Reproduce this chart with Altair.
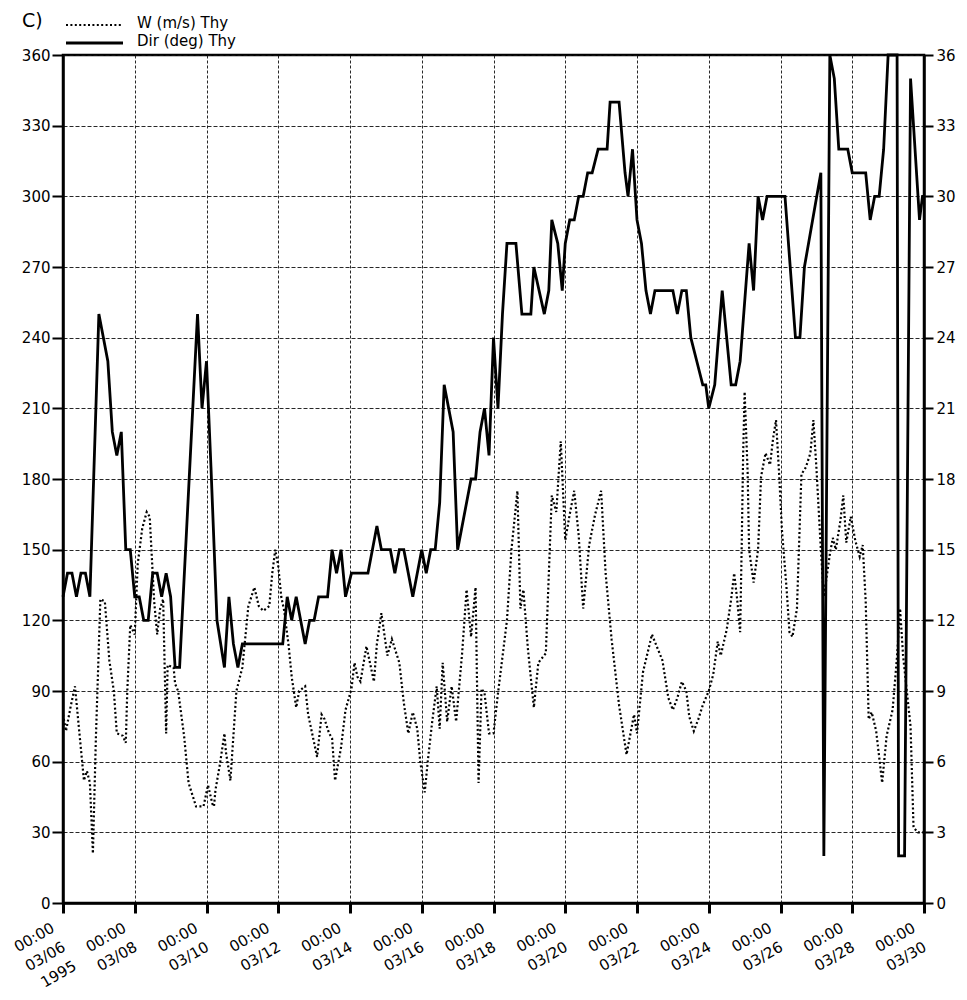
import altair as alt
import pandas as pd

# ---------------- data ----------------
# hours after 1995-03-06 00:00
dir_hours = [0, 3, 6, 9, 12, 15, 18, 24, 30, 33, 36, 39, 42, 45, 48, 51, 54, 57, 60, 63,
             66, 69, 72, 75, 78, 90, 93, 96, 99, 103, 108, 111, 114, 117, 120, 147, 150, 153,
             156, 162, 165, 168, 171, 177, 180, 183, 186, 189, 193, 204, 210, 213, 219, 222,
             225, 228, 234, 240, 243, 246, 249, 252, 255, 261, 264, 273, 276, 279, 282, 285,
             288, 291, 294, 297, 303, 307, 313, 315, 322, 325, 327, 331, 334, 336, 339, 342,
             345, 348, 351, 354, 358, 364, 366, 372, 376, 378, 381, 384, 387, 390, 393, 396,
             408, 411, 414, 417, 420, 424, 428, 430, 432, 436, 441, 447, 450, 453, 459, 462,
             465, 468, 471, 483, 490, 493, 496, 507, 509, 513, 516, 519, 525, 528, 537, 540,
             543, 546, 549, 552, 558, 559, 563, 567, 570, 573, 575, 576]
dir_deg = [130, 140, 140, 130, 140, 140, 130, 250, 230, 200, 190, 200, 150, 150, 130, 130, 120, 120, 140, 140,
           130, 140, 130, 100, 100, 250, 210, 230, 185, 120, 100, 130, 110, 100, 110, 110, 130, 120,
           130, 110, 120, 120, 130, 130, 150, 140, 150, 130, 140, 140, 160, 150, 150, 140,
           150, 150, 130, 150, 140, 150, 150, 170, 220, 200, 150, 180, 180, 200, 210, 190,
           240, 210, 250, 280, 280, 250, 250, 270, 250, 260, 290, 280, 260, 280, 290, 290,
           300, 300, 310, 310, 320, 320, 340, 340, 310, 300, 320, 290, 280, 260, 250, 260,
           260, 250, 260, 260, 240, 230, 220, 220, 210, 220, 260, 220, 220, 230, 280, 260,
           300, 290, 300, 300, 240, 240, 270, 310, 20, 360, 350, 320, 320, 310, 310, 290,
           300, 300, 320, 360, 360, 20, 20, 350, 320, 290, 300, 300]

w_hours = [0, 2, 5, 8, 11, 14, 16, 18, 20, 22, 25, 28, 31, 34, 36, 40, 42, 43, 45, 48,
           50, 53, 56, 58, 60, 61, 63, 65, 67, 69, 70, 74, 75, 77, 81, 84, 89, 94, 97, 100,
           101, 102, 105, 108, 109, 112, 116, 120, 124, 128, 131, 134, 138, 140, 142, 144, 146, 148,
           151, 153, 156, 158, 162, 164, 170, 173, 175, 178, 180, 182, 186, 189, 193, 195,
           197, 199, 203, 205, 208, 210, 213, 217, 220, 225, 228, 231, 234, 237, 239, 242,
           244, 247, 250, 252, 254, 257, 260, 263, 267, 270, 273, 276, 278, 280, 282, 285,
           288, 291, 297, 300, 304, 306, 308, 311, 315, 318, 323, 327, 330, 333, 336, 339,
           342, 345, 348, 352, 356, 360, 363, 367, 372, 377, 382, 384, 388, 394, 401, 405,
           408, 411, 414, 417, 419, 422, 425, 428, 432, 435, 438, 440, 444, 447, 449, 451,
           453, 454, 455, 456, 458, 459, 462, 465, 467, 470, 473, 475, 477, 479, 481, 484,
           486, 488, 491, 494, 497, 500, 502, 504, 507, 509, 513, 515, 517, 520, 522, 524,
           527, 530, 533, 535, 537, 539, 541, 544, 546, 548, 551, 555, 558, 560, 562, 565,
           567, 569, 572, 576]
w_speed = [8.0, 7.3, 8.3, 9.2, 7.2, 5.2, 5.6, 5.1, 2.1, 7.0, 12.9, 12.8, 10.3, 9.0, 7.2, 7.1, 6.8, 9.0, 11.8, 11.4,
           14.4, 15.9, 16.6, 16.4, 14.0, 12.8, 11.4, 12.5, 12.9, 7.2, 10.1, 10.0, 9.3, 9.0, 7.1, 5.1, 4.1, 4.1, 5.0, 4.2,
           4.1, 4.8, 5.9, 7.2, 6.4, 5.2, 9.0, 10.0, 12.6, 13.4, 12.6, 12.4, 12.6, 14.0, 15.0, 14.3, 13.0, 12.4,
           10.9, 9.6, 8.3, 9.0, 9.2, 8.0, 6.2, 8.0, 7.8, 7.2, 7.0, 5.2, 6.6, 8.2, 9.1, 10.2,
           9.6, 9.4, 10.9, 10.3, 9.4, 11.0, 12.3, 10.5, 11.2, 10.2, 8.5, 7.2, 8.1, 7.4, 6.0, 4.7,
           6.0, 7.7, 9.2, 7.4, 10.2, 7.7, 9.2, 7.7, 10.6, 13.3, 11.3, 13.4, 5.1, 9.1, 8.9, 7.2,
           7.2, 8.9, 12.0, 15.0, 17.5, 12.5, 13.3, 10.8, 8.3, 10.2, 10.6, 17.3, 16.6, 19.6, 15.4, 16.5,
           17.5, 15.6, 12.5, 15.2, 16.5, 17.5, 14.0, 11.2, 8.4, 6.3, 8.0, 7.2, 9.8, 11.4, 10.3, 8.7,
           8.2, 8.7, 9.4, 9.0, 7.9, 7.3, 7.8, 8.4, 9.0, 9.7, 11.1, 10.5, 11.6, 12.9, 14.0, 12.9,
           11.5, 15.0, 19.0, 21.7, 18.3, 15.0, 13.6, 15.0, 18.1, 19.1, 18.6, 19.7, 20.5, 18.3, 15.8, 13.4,
           11.5, 11.3, 12.5, 18.2, 18.5, 19.1, 20.5, 18.5, 15.0, 13.0, 14.8, 15.5, 15.0, 16.2, 17.3, 15.3,
           16.4, 15.4, 14.7, 15.2, 12.8, 7.8, 8.1, 7.3, 6.2, 5.1, 7.1, 8.2, 10.5, 12.5, 10.5, 8.7,
           7.5, 3.2, 3.0, 3.0]

dir_ticks = list(range(0, 361, 30))
w_ticks = list(range(0, 37, 3))
tick_days = list(range(6, 31, 2))
panel_label = ["C)"]
legend_labels = ["W (m/s) Thy", "Dir (deg) Thy"]

# ---------------- build ----------------
start = pd.Timestamp("1995-03-06 00:00")
dir_df = pd.DataFrame({"time": start + pd.to_timedelta(dir_hours, unit="h"), "dir": dir_deg})
w_df = pd.DataFrame({"time": start + pd.to_timedelta(w_hours, unit="h"), "w": w_speed})

FONT = "DejaVu Sans"
x_scale = alt.Scale(domain=[alt.DateTime(year=1995, month=3, date=6),
                            alt.DateTime(year=1995, month=3, date=30)])
x_axis = alt.Axis(
    values=[alt.DateTime(year=1995, month=3, date=d) for d in tick_days],
    title=None, labelAngle=330, labelAlign="right", labelBaseline="top",
    labelExpr=("(month(datum.value)==2 && date(datum.value)==6) ? "
               "[timeFormat(datum.value,'%H:%M'), timeFormat(datum.value,'%m/%d'), timeFormat(datum.value,'%Y')] : "
               "[timeFormat(datum.value,'%H:%M'), timeFormat(datum.value,'%m/%d')]"),
    labelFont=FONT, labelFontSize=15, labelLineHeight=22, labelColor="black",
    labelPadding=7, labelOffset=-14, labelOverlap=False, labelFlush=False,
    tickSize=10, tickWidth=3, tickColor="black",
    domainWidth=2.5, domainColor="black",
    grid=True, gridDash=[3, 2], gridColor="#111111", gridWidth=1, gridOpacity=0.9,
)
x_enc = alt.X("time:T", scale=x_scale, axis=x_axis)

w_line = alt.Chart(w_df).mark_line(color="black", strokeWidth=2.2, strokeDash=[2, 2.4]).encode(
    x=x_enc,
    y=alt.Y("w:Q", scale=alt.Scale(domain=[0, 36], nice=False),
            axis=alt.Axis(orient="right", values=w_ticks, title=None, grid=False,
                          labelFont=FONT, labelFontSize=15, labelColor="black", labelPadding=3,
                          tickSize=9, tickWidth=2, tickColor="black",
                          domainWidth=2.5, domainColor="black")),
)

dir_line = alt.Chart(dir_df).mark_line(color="black", strokeWidth=2.8).encode(
    x=x_enc,
    y=alt.Y("dir:Q", scale=alt.Scale(domain=[0, 360], nice=False),
            axis=alt.Axis(orient="left", values=dir_ticks, title=None,
                          labelFont=FONT, labelFontSize=15, labelColor="black", labelPadding=2,
                          tickSize=11, tickWidth=2, tickColor="black",
                          domainWidth=2.5, domainColor="black",
                          grid=True, gridDash=[4, 2], gridColor="#111111", gridWidth=1, gridOpacity=0.9)),
)

label_c = alt.Chart(pd.DataFrame({"t": panel_label})).mark_text(
    font=FONT, fontSize=19, align="left", baseline="middle", color="black"
).encode(x=alt.value(-41), y=alt.value(-34), text="t:N")

leg_w_line = alt.Chart(pd.DataFrame({"t": legend_labels[:1]})).mark_rule(
    color="black", strokeWidth=2.2, strokeDash=[2, 2.4]
).encode(x=alt.value(3), x2=alt.value(60), y=alt.value(-30))
leg_d_line = alt.Chart(pd.DataFrame({"t": legend_labels[1:]})).mark_rule(
    color="black", strokeWidth=2.8
).encode(x=alt.value(3), x2=alt.value(60), y=alt.value(-12))
leg_w_text = alt.Chart(pd.DataFrame({"t": legend_labels[:1]})).mark_text(
    font=FONT, fontSize=15, align="left", baseline="middle", color="black"
).encode(x=alt.value(74), y=alt.value(-32), text="t:N")
leg_d_text = alt.Chart(pd.DataFrame({"t": legend_labels[1:]})).mark_text(
    font=FONT, fontSize=15, align="left", baseline="middle", color="black"
).encode(x=alt.value(74), y=alt.value(-14), text="t:N")

chart = alt.layer(
    w_line, dir_line, label_c, leg_w_line, leg_d_line, leg_w_text, leg_d_text
).resolve_scale(y="independent").properties(
    width=861, height=848,
    autosize=alt.AutoSizeParams(type="none"),
    padding={"left": 55, "top": 47, "right": 32, "bottom": 89},
).configure_view(stroke="black", strokeWidth=2.5)

chart.save("out.html", embed_options={"renderer": "svg", "actions": False})
